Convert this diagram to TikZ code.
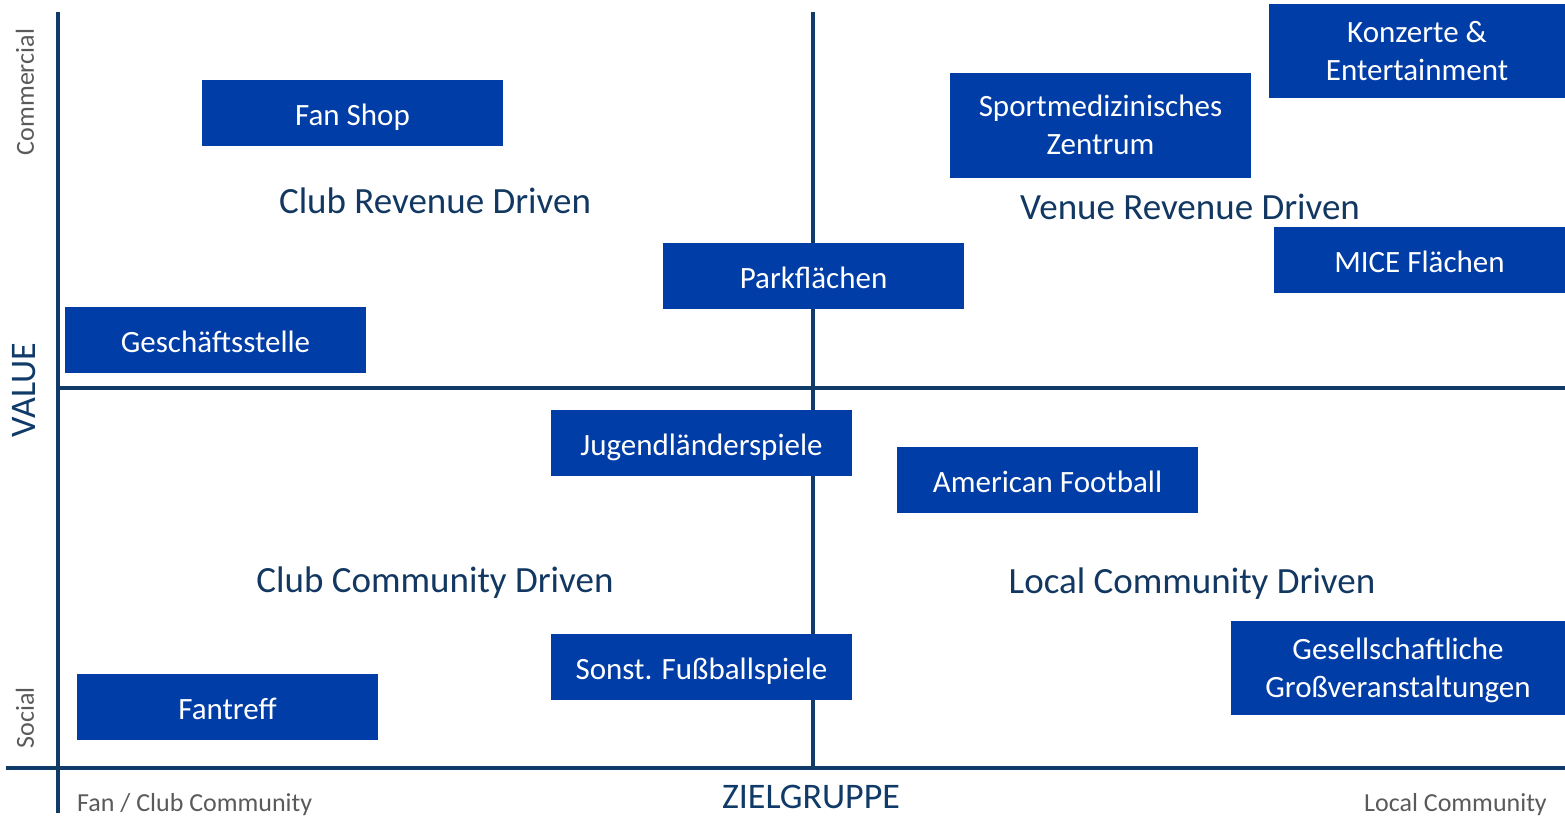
\documentclass[tikz,border=0pt]{standalone}
\usepackage{fontspec}
\setmainfont{Carlito}
\usepackage{xcolor}
\usepackage{tikz}
\usetikzlibrary{positioning}
\definecolor{boxBlue}{RGB}{0,61,166}
\definecolor{axisNavy}{RGB}{16,58,104}
\definecolor{quadInk}{RGB}{18,56,98}
\definecolor{endGrey}{RGB}{90,90,90}

\tikzset{
  fieldbox/.style={fill=boxBlue,text=white,inner sep=0pt,align=center,
    font=\fontsize{31}{38}\selectfont},
  onebox/.style={fieldbox,text height=24pt,text depth=0pt,
    minimum width=301,minimum height=66},
  quadlabel/.style={text=quadInk,inner sep=0pt,font=\fontsize{37}{44}\selectfont},
  axislabel/.style={text=axisNavy,inner sep=0pt,font=\fontsize{36}{43}\selectfont},
  endlabel/.style={text=endGrey,inner sep=0pt,font=\fontsize{26}{31}\selectfont},
  axisline/.style={draw=axisNavy,line width=3.5pt}
}

\begin{document}
\begin{tikzpicture}[x=1pt,y=-1pt]
  \useasboundingbox (0,0) rectangle (1565,816);
  % ---- axes and quadrant cross
  \draw[axisline] (58,12) -- (58,813);
  \draw[axisline] (6,768) -- (1565,768);
  \draw[axisline] (813,12) -- (813,768);
  \draw[axisline] (58,388) -- (1565,388);
  % ---- quadrant names
  \node[quadlabel] (clubRev) at (435,201) {Club Revenue Driven};
  \node[quadlabel] (venueRev) at (1190,207) {Venue Revenue Driven};
  \node[quadlabel] (clubCom) at (435,583) {Club Community Driven};
  \node[quadlabel] (localCom) at (1192,584) {Local Community Driven};
  % ---- axis texts
  \node[endlabel,rotate=90] (commercial) at (25,92) {Commercial};
  \node[endlabel,rotate=90] (social) at (25,718) {Social};
  \node[axislabel,rotate=90] (value) at (24,390) {VALUE};
  \node[endlabel,anchor=west] (fanEnd) at (77,805) {Fan / Club Community};
  \node[endlabel,anchor=east] (localEnd) at (1547,805) {Local Community};
  \node[axislabel] (zielgruppe) at (811,797) {ZIELGRUPPE};
  % ---- usage boxes
  \node[onebox] (fanShop) at (352.5,113) {Fan Shop};
  \node[onebox] (geschaeft) at (215.5,340) {Geschäftsstelle};
  \node[onebox] (park) at (813.5,276) {Parkflächen};
  \node[fieldbox,minimum width=301,minimum height=105] (sportmed) at (1100.5,125)
      {Sportmedizinisches\\Zentrum};
  \node[fieldbox,minimum width=296,minimum height=94] (konzerte) at (1417,51)
      {Konzerte \&\\Entertainment};
  \node[onebox,minimum width=291] (mice) at (1419.5,260) {MICE Flächen};
  \node[onebox] (jugend) at (701.5,443) {Jugendländerspiele};
  \node[onebox] (amFootball) at (1047.5,480) {American Football};
  \node[onebox] (sonst) at (701.5,667) {Sonst. Fußballspiele};
  \node[onebox] (fantreff) at (227.5,707) {Fantreff};
  \node[fieldbox,minimum width=334,minimum height=94] (gesell) at (1398,668)
      {\rule{0pt}{26pt}Gesellschaftliche\\Großveranstaltungen};
\end{tikzpicture}
\end{document}
